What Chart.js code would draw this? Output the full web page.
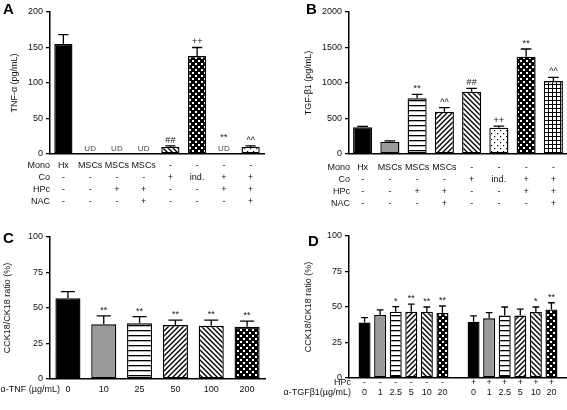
<!DOCTYPE html>
<html>
<head>
<meta charset="utf-8">
<script src="https://cdn.jsdelivr.net/npm/chart.js@4.4.0/dist/chart.umd.min.js"></script>
<style>
body { margin:0; width:567px; height:410px; background:#fff; position:relative; overflow:hidden; font-family:"Liberation Sans", Arial, sans-serif; }
canvas { position:absolute; }
.tag { position:absolute; font-weight:bold; font-size:15px; line-height:15px; color:#000; }
</style>
</head>
<body>
<canvas id="tnfChart" width="280" height="215" style="left:0;top:0"></canvas>
<canvas id="tgfChart" width="287" height="215" style="left:280px;top:0"></canvas>
<canvas id="cckTnfChart" width="280" height="195" style="left:0;top:215px"></canvas>
<canvas id="cckTgfChart" width="287" height="195" style="left:280px;top:215px"></canvas>
<div class="tag" style="left:3px;top:1px">A</div>
<div class="tag" style="left:306px;top:1px">B</div>
<div class="tag" style="left:3px;top:230px">C</div>
<div class="tag" style="left:308px;top:233px">D</div>
<script>
Chart.defaults.font.family = '"Liberation Sans", Arial, sans-serif';
Chart.defaults.font.size = 9;
Chart.defaults.color = '#111';

// panels A and B: culture conditions
var groups = ['Hx', 'MSCs', 'MSCs+HPc', 'MSCs+HPc+NAC', 'Co', 'ind.', 'Co+HPc', 'Co+HPc+NAC'];
var rowMono = ['Hx', 'MSCs', 'MSCs', 'MSCs', '-', '-', '-', '-'];
var rowCo   = ['-', '-', '-', '-', '+', 'ind.', '+', '+'];
var rowHPc  = ['-', '-', '+', '+', '-', '-', '+', '+'];
var rowNAC  = ['-', '-', '-', '+', '-', '-', '-', '+'];

// A: TNF-alpha, null = undetectable
var tnfMean = [155, null, null, null, 10, 138, null, 10];
var tnfSem  = [13, 0, 0, 0, 1.5, 12, 0, 1.5];
var tnfSig  = ['', '', '', '', '##', '++', '**', '^^'];

// B: TGF-beta1
var tgfMean = [376, 173, 784, 596, 877, 371, 1371, 1028];
var tgfSem  = [14, 12, 57, 56, 48, 23, 108, 52];
var tgfSig  = ['', '', '**', '^^', '##', '++', '**', '^^'];

// C: anti-TNF doses
var tnfDose    = ['0', '10', '25', '50', '100', '200'];
var cckTnfMean = [56.8, 38.5, 39.2, 38, 37.5, 36.8];
var cckTnfSem  = [4.7, 5.9, 4.7, 3.5, 4, 4];
var cckTnfSig  = ['', '**', '**', '**', '**', '**'];

// D: anti-TGF-beta1 doses, without and with HPc
var tgfDose       = ['0', '1', '2.5', '5', '10', '20'];
var cckTgfMean    = [39, 44.4, 46.7, 46.7, 46.5, 45.8];
var cckTgfSem     = [3.5, 3.6, 3.5, 5.3, 3.5, 4.9];
var cckTgfSig     = ['', '', '*', '**', '**', '**'];
var cckTgfHpcMean = [39.7, 42, 44, 44, 46.5, 48.3];
var cckTgfHpcSem  = [4, 4, 6, 4.5, 3.5, 4.7];
var cckTgfHpcSig  = ['', '', '', '', '*', '**'];

function makePattern(kind) {
  if (kind === 'solid') return '#000';
  if (kind === 'gray') return '#9a9a9a';
  if (kind === 'none') return 'rgba(0,0,0,0)';
  var s = {horiz: 5, up: 5, down: 5, dense: 6, dots: 6, grid: 4}[kind];
  var c = document.createElement('canvas');
  c.width = c.height = s;
  var g = c.getContext('2d');
  g.fillStyle = kind === 'dense' ? '#000' : '#fff';
  g.fillRect(0, 0, s, s);
  g.fillStyle = '#000';
  g.strokeStyle = '#000';
  g.lineWidth = 1.4;
  if (kind === 'horiz') g.fillRect(0, 0, s, 1.3);
  if (kind === 'up') {
    g.beginPath();
    g.moveTo(-1, s + 1); g.lineTo(s + 1, -1);
    g.moveTo(-1, 1); g.lineTo(1, -1);
    g.moveTo(s - 1, s + 1); g.lineTo(s + 1, s - 1);
    g.stroke();
  }
  if (kind === 'down') {
    g.beginPath();
    g.moveTo(-1, -1); g.lineTo(s + 1, s + 1);
    g.moveTo(s - 1, -1); g.lineTo(s + 1, 1);
    g.moveTo(-1, s - 1); g.lineTo(1, s + 1);
    g.stroke();
  }
  if (kind === 'dense') {
    g.fillStyle = '#fff';
    g.fillRect(0, 0, 2, 2);
    g.fillRect(3, 3, 2, 2);
  }
  if (kind === 'dots') {
    g.fillRect(1, 1, 1.2, 1.2);
    g.fillRect(4, 4, 1.2, 1.2);
  }
  if (kind === 'grid') {
    g.fillRect(0, 0, s, 1);
    g.fillRect(0, 0, 1, s);
  }
  return g.createPattern(c, 'repeat');
}

// error bars, significance marks and the condition rows under the axis
function extras(cfg) {
  return {
    id: 'extras',
    afterDatasetsDraw: function(chart) {
      var ctx = chart.ctx, x = chart.scales.x, y = chart.scales.y;
      var bars = chart.getDatasetMeta(0).data;
      ctx.save();
      ctx.strokeStyle = '#000';
      ctx.lineWidth = 1.3;
      ctx.fillStyle = '#111';
      ctx.textAlign = 'center';
      cfg.mean.forEach(function(v, i) {
        var cx = x.getPixelForValue(i);
        var top;
        if (v == null) {
          if (!cfg.ud) return;
          ctx.font = '8px "Liberation Sans", Arial, sans-serif';
          ctx.textBaseline = 'middle';
          ctx.fillStyle = '#444';
          ctx.fillText('UD', cx, y.getPixelForValue(0) - 5);
          ctx.fillStyle = '#111';
          top = y.getPixelForValue(0) - 11;
        } else {
          var w = bars[i].width;
          top = y.getPixelForValue(v + cfg.sem[i]);
          ctx.beginPath();
          ctx.moveTo(cx, y.getPixelForValue(v));
          ctx.lineTo(cx, top);
          ctx.moveTo(cx - w * 0.28, top);
          ctx.lineTo(cx + w * 0.28, top);
          ctx.stroke();
        }
        if (cfg.sig[i]) {
          ctx.font = '9px "Liberation Sans", Arial, sans-serif';
          ctx.textBaseline = 'bottom';
          ctx.fillText(cfg.sig[i], cx, top - 1);
        }
      });
      ctx.font = '9px "Liberation Sans", Arial, sans-serif';
      ctx.textBaseline = 'middle';
      cfg.rows.forEach(function(row, r) {
        var ry = chart.chartArea.bottom + cfg.rowY[r];
        ctx.textAlign = 'right';
        ctx.fillText(row.label, cfg.labelX, ry);
        ctx.textAlign = 'center';
        row.values.forEach(function(t, i) {
          if (t) ctx.fillText(t, x.getPixelForValue(i), ry);
        });
      });
      ctx.restore();
    }
  };
}

function barChart(id, o) {
  return new Chart(document.getElementById(id), {
    type: 'bar',
    data: {
      labels: o.labels,
      datasets: [{
        data: o.mean,
        backgroundColor: o.fills.map(makePattern),
        borderColor: '#000',
        borderWidth: 1.4,
        borderSkipped: false,
        barPercentage: o.barPct,
        categoryPercentage: 1
      }]
    },
    options: {
      responsive: false,
      animation: false,
      layout: {padding: o.padding},
      plugins: {legend: {display: false}, tooltip: {enabled: false}},
      scales: {
        x: {
          offset: o.offset,
          ticks: {display: false},
          grid: {display: false},
          border: {color: '#000', width: 1.5},
          afterFit: function(s) { s.height = o.xHeight; }
        },
        y: {
          min: 0,
          max: o.max,
          ticks: {stepSize: o.step, padding: 3, color: '#111', format: {useGrouping: false}},
          grid: {display: true, drawOnChartArea: false, drawTicks: true, tickLength: 4, color: '#000', lineWidth: 1.3},
          border: {color: '#000', width: 1.5},
          title: {display: true, text: o.title, font: {size: 9}, color: '#111', padding: {top: o.titlePad, bottom: 0}},
          afterFit: function(s) { s.width = o.yWidth; }
        }
      }
    },
    plugins: [extras(o.extra)]
  });
}

var condRows = [
  {label: 'Mono', values: rowMono},
  {label: 'Co', values: rowCo},
  {label: 'HPc', values: rowHPc},
  {label: 'NAC', values: rowNAC}
];

barChart('tnfChart', {
  labels: groups, mean: tnfMean, max: 200, step: 50, title: 'TNF-\u03b1 (pg/mL)',
  fills: ['solid', 'none', 'none', 'none', 'down', 'dense', 'none', 'dots'],
  barPct: 0.68, offset: true, padding: {left: 0, top: 12, right: 16, bottom: 0},
  xHeight: 61, yWidth: 50, titlePad: 9,
  extra: {mean: tnfMean, sem: tnfSem, sig: tnfSig, ud: true, rows: condRows, rowY: [12, 24, 36, 48], labelX: 50}
});

barChart('tgfChart', {
  labels: groups, mean: tgfMean, max: 2000, step: 500, title: 'TGF-\u03b21 (pg/mL)',
  fills: ['solid', 'gray', 'horiz', 'up', 'down', 'dots', 'dense', 'grid'],
  barPct: 0.7, offset: true, padding: {left: 0, top: 12, right: 0, bottom: 0},
  xHeight: 61, yWidth: 69, titlePad: 23,
  extra: {mean: tgfMean, sem: tgfSem, sig: tgfSig, ud: false, rows: condRows, rowY: [14, 26, 38, 50], labelX: 70}
});

barChart('cckTnfChart', {
  labels: tnfDose, mean: cckTnfMean, max: 100, step: 25, title: 'CCK18/CK18 ratio (%)',
  fills: ['solid', 'gray', 'horiz', 'up', 'down', 'dense'],
  barPct: 0.7, offset: true, padding: {left: 0, top: 22, right: 15, bottom: 0},
  xHeight: 31, yWidth: 50, titlePad: 2,
  extra: {mean: cckTnfMean, sem: cckTnfSem, sig: cckTnfSig, ud: false,
          rows: [{label: '\u03b1-TNF (\u00b5g/mL)', values: tnfDose}], rowY: [11], labelX: 60}
});

// D: spacer categories at both ends and between the two groups
var dLabels = [''].concat(tgfDose, [''], tgfDose, ['']);
var dMean = [null].concat(cckTgfMean, [null], cckTgfHpcMean, [null]);
var dSem = [0].concat(cckTgfSem, [0], cckTgfHpcSem, [0]);
var dSig = [''].concat(cckTgfSig, [''], cckTgfHpcSig, ['']);
var dHpc = [''].concat(tgfDose.map(function() { return '-'; }), [''], tgfDose.map(function() { return '+'; }), ['']);
var dFill = ['solid', 'gray', 'horiz', 'up', 'down', 'dense'];

barChart('cckTgfChart', {
  labels: dLabels, mean: dMean, max: 100, step: 25, title: 'CCK18/CK18 ratio (%)',
  fills: ['none'].concat(dFill, ['none'], dFill, ['none']),
  barPct: 0.77, offset: false, padding: {left: 0, top: 21, right: 0, bottom: 0},
  xHeight: 32, yWidth: 69, titlePad: 23,
  extra: {mean: dMean, sem: dSem, sig: dSig, ud: false,
          rows: [{label: 'HPc', values: dHpc}, {label: '\u03b1-TGF\u03b21(\u00b5g/mL)', values: dLabels}],
          rowY: [5, 15], labelX: 71}
});
</script>
</body>
</html>
